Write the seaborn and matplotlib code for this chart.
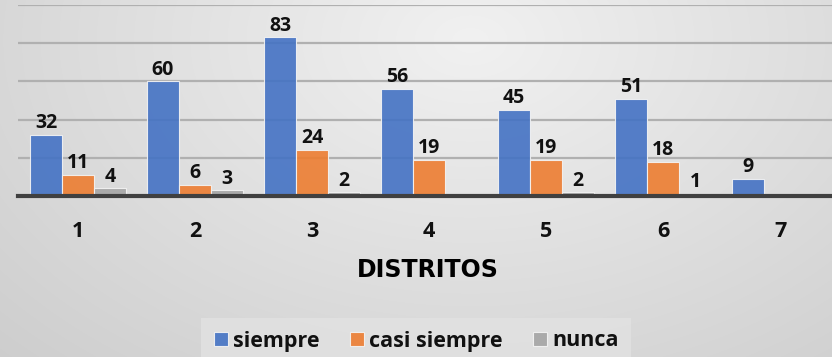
import numpy as np
import pandas as pd
import matplotlib
matplotlib.use("Agg")
import matplotlib.pyplot as plt
import seaborn as sns

# Survey counts per district
distritos = ["1", "2", "3", "4", "5", "6", "7"]
siempre = [32, 60, 83, 56, 45, 51, 9]
casi_siempre = [11, 6, 24, 19, 19, 18, None]
nunca = [4, 3, 2, None, 2, 1, None]
series = ["siempre", "casi siempre", "nunca"]
colores = ["#4472C4", "#ED7D31", "#A5A5A5"]

df = pd.DataFrame({
    "distrito": distritos * 3,
    "serie": np.repeat(series, len(distritos)),
    "valor": siempre + casi_siempre + nunca,
}).dropna()

sns.set_theme(style="white")
plt.rcParams["font.family"] = ["Open Sans", "DejaVu Sans"]

W, H = 832, 357
fig = plt.figure(figsize=(W / 100, H / 100), dpi=100)

# soft radial gray backdrop
bg = fig.add_axes([0, 0, 1, 1], zorder=-10)
yy, xx = np.mgrid[0:H, 0:W]
r = np.sqrt(((xx - 470) / 620.0) ** 2 + ((yy - 40) / 420.0) ** 2)
shade = 0.945 - 0.13 * np.clip(r, 0, 1.3)
bg.imshow(np.dstack([shade] * 3), extent=[0, W, H, 0], aspect="auto")
bg.axis("off")

ax = fig.add_axes([18 / W, (H - 196) / H, 1 - 18 / W, 191 / H])
ax.patch.set_alpha(0)

sns.barplot(data=df, x="distrito", y="valor", hue="serie", order=distritos,
            hue_order=series, palette=colores, width=0.82, saturation=1,
            alpha=0.9, edgecolor="#f4f4f4", linewidth=0.8, ax=ax, legend=True)

for cont in ax.containers:
    ax.bar_label(cont, fmt="%d", padding=1.2, fontsize=14, fontweight="bold",
                 color="#111111")

ax.set_ylim(0, 100)
ax.set_xlim(-0.513, 6.444)
ax.set_yticks([20, 40, 60, 80, 100])
ax.yaxis.grid(True, color="#b0b0b0", linewidth=1.6)
ax.set_axisbelow(True)
ax.tick_params(axis="y", left=False, labelleft=False)
ax.tick_params(axis="x", bottom=False, labelsize=15.5, pad=12)
for lab in ax.get_xticklabels():
    lab.set_fontweight("bold")
    lab.set_color("#111111")
for side in ["left", "right", "top"]:
    ax.spines[side].set_visible(False)
ax.spines["bottom"].set_color("#404040")
ax.spines["bottom"].set_linewidth(3)
ax.set_ylabel("")
ax.set_xlabel("")

fig.text(428 / W, 1 - 270 / H, "DISTRITOS", ha="center", va="center",
         fontsize=17, fontweight="heavy", family=["DejaVu Sans"], color="#000000")

handles, labels = ax.get_legend_handles_labels()
ax.legend_.remove()
leg = fig.legend(handles, labels, loc="center", bbox_to_anchor=(416 / W, 1 - 341 / H),
                 ncol=3, frameon=True, fontsize=15.5, handlelength=0.65,
                 handleheight=0.65, handletextpad=0.25, columnspacing=1.4,
                 borderpad=0.6)
leg.get_frame().set_facecolor("#e2e2e2")
leg.get_frame().set_edgecolor("none")
leg.get_frame().set_boxstyle("square", pad=0)
for t in leg.get_texts():
    t.set_fontweight("bold")
    t.set_color("#111111")

fig.savefig("out.png", dpi=100)
